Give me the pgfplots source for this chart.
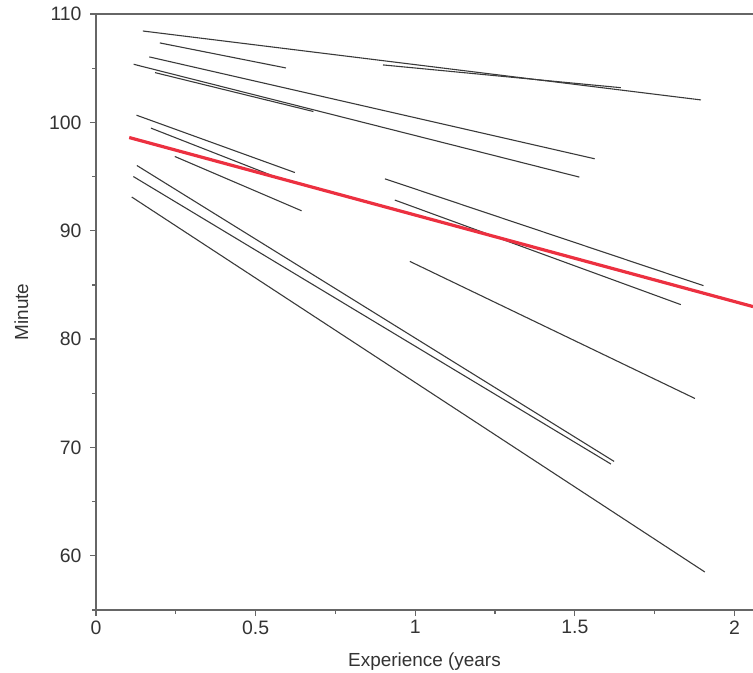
\documentclass[border=0pt]{standalone}
\usepackage{fontspec}
\setmainfont{Liberation Sans}
\usepackage{pgfplots}
\pgfplotsset{compat=1.18}

\definecolor{axisgray}{HTML}{666666}
\definecolor{linegray}{HTML}{3A3A3A}
\definecolor{fitred}{HTML}{EC3040}

\begin{document}
\begin{tikzpicture}[x=1bp,y=1bp]
\begin{axis}[
    at={(96bp,63bp)}, anchor=south west,
    scale only axis,
    width=657bp, height=596bp,
    xmin=0, xmax=2.058,
    ymin=55, ymax=110,
    axis x line*=bottom,
    axis y line*=left,
    axis line style={axisgray, line width=1.4bp, -},
    xtick={0,0.5,1,1.5,2},
    minor xtick={0.25,0.75,1.25,1.75},
    ytick={60,70,80,90,100,110},
    minor ytick={55,65,75,85,95,105},
    tick align=outside,
    major tick length=6bp,
    minor tick length=4bp,
    tick style={axisgray, line width=1.2bp},
    every tick label/.append style={font=\fontsize{19.5}{22}\selectfont, text=black!80},
    /pgf/number format/assume math mode=true,
    xticklabel style={yshift=-1bp},
    yticklabel style={xshift=-5bp},
    xlabel={Experience (years},
    ylabel={Minute},
    label style={font=\fontsize{19}{22}\selectfont, text=black!80},
    xlabel style={yshift=-12bp},
    ylabel style={yshift=14bp},
    clip=false,
    seg/.style={linegray, line width=1.1bp, solid, no marks},
]
\draw[axisgray, line width=1.4bp] (rel axis cs:0,1) -- (rel axis cs:1,1);

\addplot[seg] coordinates {(0.147,108.43) (1.895,102.07)};
\addplot[seg] coordinates {(0.200,107.33) (0.595,105.02)};
\addplot[seg] coordinates {(0.899,105.30) (1.644,103.20)};
\addplot[seg] coordinates {(0.167,106.04) (1.562,96.64)};
\addplot[seg] coordinates {(0.118,105.36) (1.514,94.95)};
\addplot[seg] coordinates {(0.185,104.59) (0.681,101.00)};
\addplot[seg] coordinates {(0.127,100.66) (0.623,95.37)};
\addplot[seg] coordinates {(0.172,99.47) (0.570,94.88)};
\addplot[seg] coordinates {(0.247,96.85) (0.644,91.84)};
\addplot[seg] coordinates {(0.128,96.02) (1.623,68.71)};
\addplot[seg] coordinates {(0.117,95.00) (1.613,68.47)};
\addplot[seg] coordinates {(0.112,93.11) (1.907,58.51)};
\addplot[seg] coordinates {(0.905,94.79) (1.903,84.93)};
\addplot[seg] coordinates {(0.936,92.83) (1.832,83.18)};
\addplot[seg] coordinates {(0.983,87.17) (1.876,74.52)};
\addplot[fitred, line width=3.2bp, solid, no marks] coordinates {(0.104,98.60) (2.058,83.00)};
\end{axis}
\pgfresetboundingbox
\path (0,0) rectangle (753bp,673bp);
\end{tikzpicture}
\end{document}
